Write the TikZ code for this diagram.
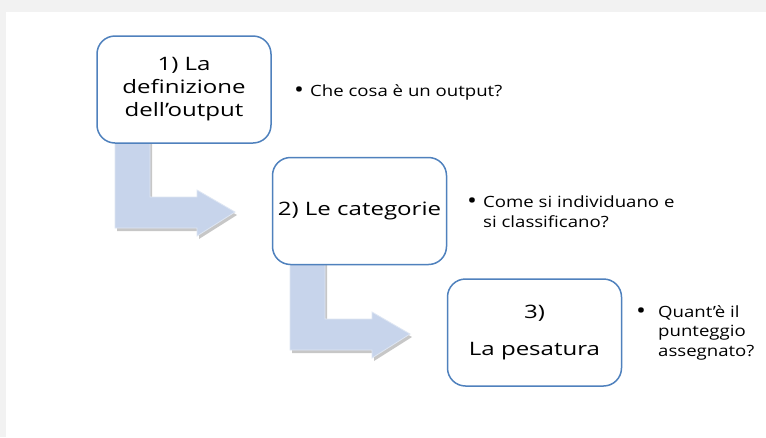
\documentclass[tikz,border=0pt]{standalone}
\usepackage{fontspec}
\setmainfont{Open Sans}
\newfontfamily\boxfont[FakeStretch=1.3]{Open Sans}
\newfontfamily\bulfont[FakeStretch=1.2]{Open Sans}
\definecolor{boxblue}{RGB}{79,129,189}
\definecolor{arrowblue}{RGB}{199,212,235}
\definecolor{arrowedge}{RGB}{222,230,243}
\definecolor{framegray}{RGB}{242,242,242}
\tikzset{
  stepbox/.style={draw=boxblue, line width=1.5pt, rounded corners=18pt, fill=white,
    minimum width=174pt, minimum height=107pt, inner sep=0pt,
    font=\boxfont\fontsize{18.5}{21.5}\selectfont, align=center},
  bul/.style={font=\bulfont\fontsize{15.5}{20}\selectfont, inner sep=0pt},
  dot/.style={font=\bulfont\fontsize{22}{22}\selectfont, inner sep=0pt},
  bentarrow/.pic={
    \fill[black, opacity=0.22] (117,143) -- (152,143) -- (152,200) -- (199,200) -- (199,193) -- (237,215) -- (199,239) -- (199,231) -- (117,231) -- cycle;
    \fill[arrowblue, draw=arrowedge, line width=0.8pt]
      (115,140) -- (150,140) -- (150,197) -- (197,197) -- (197,190) -- (235,212) -- (197,236) -- (197,228) -- (115,228) -- cycle;
  }
}
\begin{document}
\begin{tikzpicture}[x=1pt,y=-1pt]
\useasboundingbox (0,0) rectangle (766,437);
\fill[white] (0,0) rectangle (766,437);
\fill[framegray] (0,0) rectangle (766,12);
\fill[framegray] (0,0) rectangle (6,437);
% bent arrows
\pic at (0,0) {bentarrow};
\pic at (175,122) {bentarrow};
% boxes
\node[stepbox] (b1) at (184,89.5) {\raisebox{-3pt}{\begin{tabular}{@{}c@{}}1) La\\[1.5pt]definizione\\[1.5pt]dell’output\end{tabular}}};
\node[stepbox] (b2) at (359.5,211) {2) Le categorie};
\node[stepbox] (b3) at (534.5,332.5) {\raisebox{-4pt}{\begin{tabular}{@{}c@{}}3)\\[16pt]La pesatura\end{tabular}}};
% bullets
\node[dot, anchor=base] (d1) at (299,97) {•};
\node[bul, anchor=base west] (t1) at (310,96) {Che cosa è un output?};
\node[dot, anchor=base] (d2) at (472,208) {•};
\node[bul, anchor=base west] (t2) at (483,207) {\parbox[t]{260pt}{\raggedright Come si individuano e\\si classificano?}};
\node[dot, anchor=base] (d3) at (641,318) {•};
\node[bul, anchor=base west, font=\bulfont\fontsize{15.5}{19.5}\selectfont] (t3) at (658,317) {\parbox[t]{110pt}{\raggedright Quant’è il\\punteggio\\assegnato?}};
\end{tikzpicture}
\end{document}
